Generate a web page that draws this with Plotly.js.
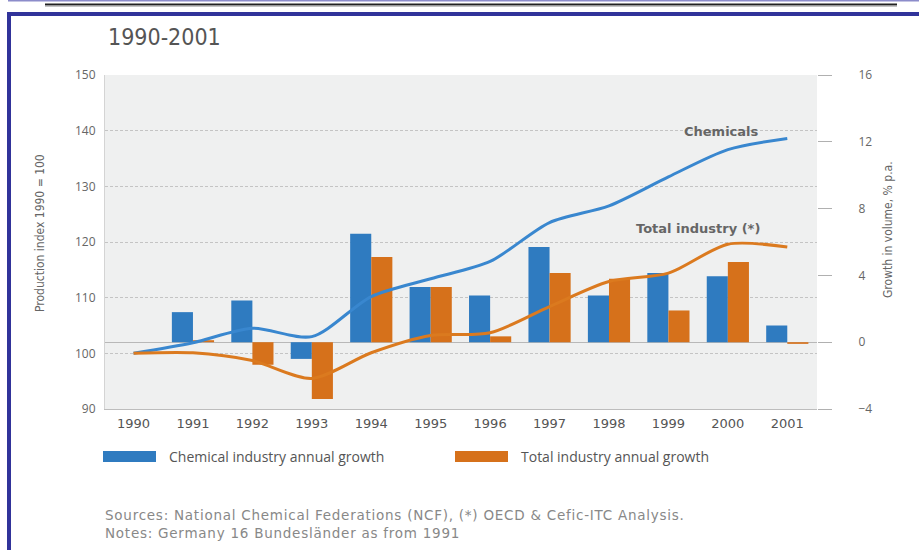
<!DOCTYPE html>
<html><head><meta charset="utf-8">
<script src="https://cdn.plot.ly/plotly-3.0.1.min.js"></script>
<style>html,body{margin:0;padding:0;background:#fff;} #chart{width:919px;height:550px;}</style>
</head><body><div id="chart"></div>
<script>
// ---- data ----
const years = [1990,1991,1992,1993,1994,1995,1996,1997,1998,1999,2000,2001];
const chemIndex  = [100, 101.9, 104.5, 103.0, 110.2, 113.4, 116.5, 123.5, 126.5, 131.7, 136.6, 138.6];
const totalIndex = [100, 100.1, 98.7, 95.5, 100.1, 103.2, 103.7, 108.4, 112.9, 114.4, 119.6, 119.1];
const chemGrowth  = [null, 1.8, 2.5, -1.0, 6.5, 3.3, 2.8, 5.7, 2.8, 4.15, 3.95, 1.0];
const totalGrowth = [null, 0.12, -1.35, -3.4, 5.1, 3.3, 0.35, 4.15, 3.8, 1.9, 4.8, -0.1];
const leftTicks  = [90,100,110,120,130,140,150];
const rightTicks = [-4,0,4,8,12,16];
const chemLineName  = 'Chemicals';
const totalLineName = 'Total industry (*)';
const chemBarName   = 'Chemical industry annual growth';
const totalBarName  = 'Total industry annual growth';
const chartTitle = '1990-2001';
const leftTitle  = 'Production index 1990 = 100';
const rightTitle = 'Growth in volume, % p.a.';
const sourcesText = 'Sources: National Chemical Federations (NCF), (*) OECD &amp; Cefic-ITC Analysis.';
const notesText   = 'Notes: Germany 16 Bundesländer as from 1991';

// ---- geometry helpers (pixel -> paper) ----
const L=105, R=817, T=75, B=409;
const px = x => (x-L)/(R-L);
const py = y => (B-y)/(B-T);

const BLUE='#2f7bc0', ORANGE='#d6711b', BLUE_L='#3987cf', ORANGE_L='#db7a1f';
const NARROW = '"Liberation Sans Narrow","DejaVu Sans Condensed",sans-serif';
const SANS = '"Open Sans","Liberation Sans",sans-serif';
const DJ = '"DejaVu Sans",sans-serif';

const traces = [
  {type:'bar', x:years, y:chemGrowth, name:chemBarName, yaxis:'y', marker:{color:BLUE}, hoverinfo:'skip'},
  {type:'bar', x:years, y:totalGrowth, name:totalBarName, yaxis:'y', marker:{color:ORANGE}, hoverinfo:'skip'},
  {type:'scatter', mode:'lines', x:years, y:chemIndex, name:chemLineName, yaxis:'y2',
   line:{color:BLUE_L, width:3, shape:'spline', smoothing:0.8}},
  {type:'scatter', mode:'lines', x:years, y:totalIndex, name:totalLineName, yaxis:'y2',
   line:{color:ORANGE_L, width:3, shape:'spline', smoothing:0.8}}
];

const ann = (text, x, y, opts) => Object.assign({text, x:px(x), y:py(y), xref:'paper', yref:'paper',
  showarrow:false, xanchor:'center', yanchor:'middle'}, opts||{});

const layout = {
  width:919, height:550,
  margin:{l:L, r:919-R, t:T, b:550-B, pad:0},
  paper_bgcolor:'#ffffff', plot_bgcolor:'#eff0f0',
  showlegend:false, barmode:'group', bargap:0.29, bargroupgap:0,
  xaxis:{range:[1989.52,2001.5], tickvals:years, ticks:'', showline:true, linecolor:'#bdbdbd', linewidth:1,
    showgrid:false, zeroline:false, fixedrange:true, ticklabelstandoff:2,
    tickfont:{family:DJ, size:13, color:'#555'}},
  yaxis:{side:'right', range:[-4,16], tickvals:rightTicks, ticks:'outside', ticklen:14, tickcolor:'#b0b0b0',
    showgrid:false, zeroline:true, zerolinecolor:'#b8b8b8', zerolinewidth:1, showline:false,
    ticklabelstandoff:24, tickfont:{family:SANS, size:12, color:'#666'}},
  yaxis2:{overlaying:'y', side:'left', range:[90,150], tickvals:leftTicks, ticks:'',
    showgrid:true, gridcolor:'#c4c4c4', griddash:'3px,2px', gridwidth:1,
    showline:true, linecolor:'#d4d4d4', zeroline:false, ticklabelstandoff:6,
    tickfont:{family:SANS, size:12, color:'#666'}},
  shapes:[
    {type:'line', xref:'paper', yref:'paper', x0:px(8), x1:px(919), y0:py(0.5), y1:py(0.5), line:{color:'#8c8cca', width:2}},
    {type:'line', xref:'paper', yref:'paper', x0:px(45), x1:px(897), y0:py(4.5), y1:py(4.5), line:{color:'#222', width:2}},
    {type:'line', xref:'paper', yref:'paper', x0:px(45), x1:px(897), y0:py(6.2), y1:py(6.2), line:{color:'#aaa', width:1}},
    {type:'rect', xref:'paper', yref:'paper', x0:px(7), x1:px(925), y0:py(12), y1:py(16), fillcolor:'#31339a', line:{width:0}},
    {type:'rect', xref:'paper', yref:'paper', x0:px(7), x1:px(11), y0:py(12), y1:py(560), fillcolor:'#31339a', line:{width:0}},
    {type:'rect', xref:'paper', yref:'paper', x0:px(103), x1:px(156), y0:py(451), y1:py(462), fillcolor:BLUE, line:{width:0}},
    {type:'rect', xref:'paper', yref:'paper', x0:px(455), x1:px(508), y0:py(451), y1:py(462), fillcolor:ORANGE, line:{width:0}}
  ],
  annotations:[
    ann(chartTitle, 106, 37, {xanchor:'left', font:{family:NARROW, size:23, color:'#555'}}),
    ann(leftTitle, 40, 233, {textangle:-90, font:{family:NARROW, size:12, color:'#666'}}),
    ann(rightTitle, 888, 230, {textangle:-90, font:{family:NARROW, size:12, color:'#666'}}),
    ann(chemLineName, 721, 131, {font:{family:DJ, size:13, color:'#666', weight:'bold'}}),
    ann(totalLineName, 698, 228, {font:{family:DJ, size:13, color:'#666', weight:'bold'}}),
    ann(chemBarName, 167, 456, {xanchor:'left', font:{family:SANS, size:14, color:'#555'}}),
    ann(totalBarName, 519, 456, {xanchor:'left', font:{family:SANS, size:14, color:'#555'}}),
    ann(sourcesText + '<br>' + notesText, 103, 523.5, {xanchor:'left', align:'left', font:{family:DJ, size:13.5, color:'#888'}})
  ]
};

Plotly.newPlot('chart', traces, layout, {displayModeBar:false, staticPlot:true}).then(gd => {
  gd.querySelectorAll('.annotation-text').forEach(t => {
    if (t.textContent.indexOf('Sources') === 0) t.style.letterSpacing = '0.75px';
  });
});
</script></body></html>
